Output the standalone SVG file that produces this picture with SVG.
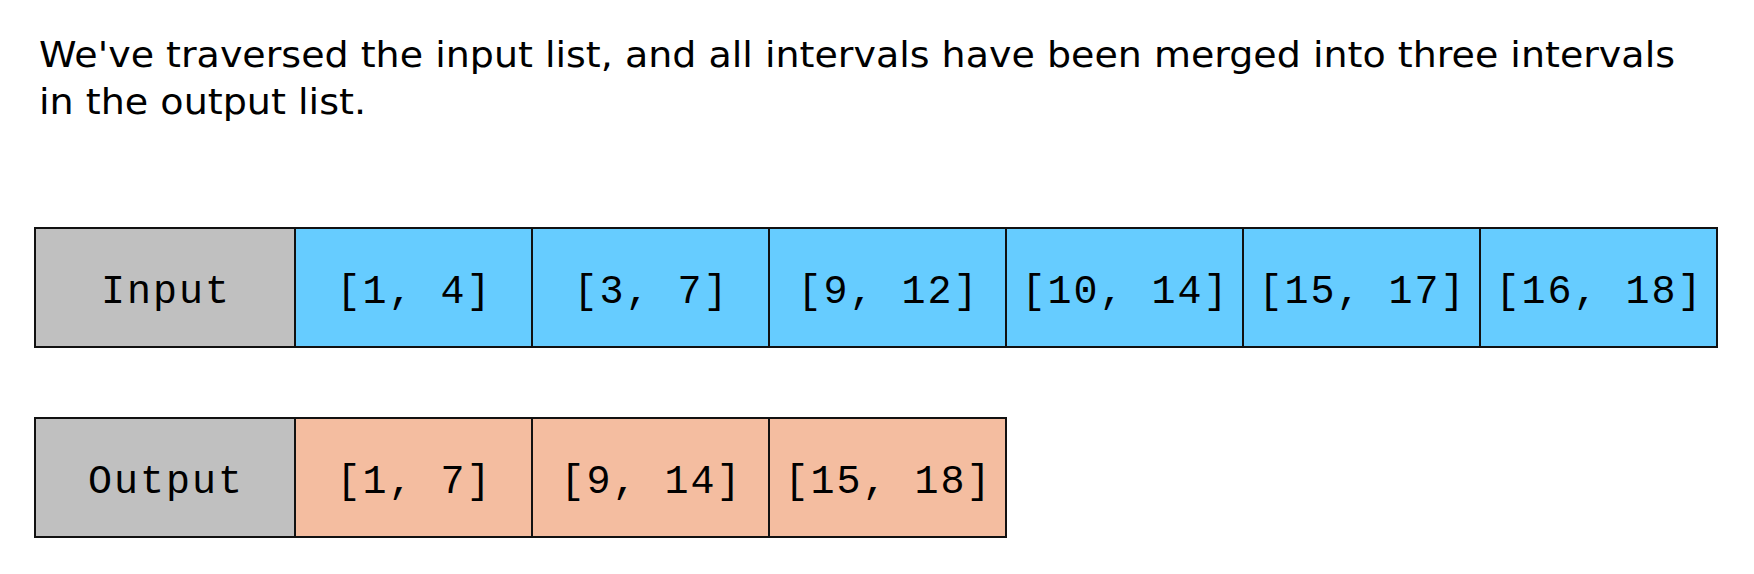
<svg xmlns="http://www.w3.org/2000/svg" width="1754" height="574" viewBox="0 0 1754 574">
<style>
.title{font-family:"DejaVu Sans",Verdana,sans-serif;font-size:35px;fill:#000}
.cell{stroke:#111;stroke-width:2}
.lab{fill:#C0C0C0}
.in{fill:#66CCFF}
.out{fill:#F4BDA0}
.t{font-family:"Liberation Mono","Courier New",monospace;font-size:40px;fill:#000;text-anchor:middle;letter-spacing:2px}
</style>
<rect width="1754" height="574" fill="#fff"/>
<g id="title">
<text class="title" x="39" y="67" textLength="1636" lengthAdjust="spacingAndGlyphs">We've traversed the input list, and all intervals have been merged into three intervals</text>
<text class="title" x="39" y="114" textLength="327" lengthAdjust="spacingAndGlyphs">in the output list.</text>
</g>
<g id="input-row">
<g id="input-label"><rect class="cell lab" x="35" y="228" width="260" height="119"/><text class="t" x="166" y="303">Input</text></g>
<g id="in1"><rect class="cell in" x="295" y="228" width="237" height="119"/><text class="t" x="414.5" y="303">[1, 4]</text></g>
<g id="in2"><rect class="cell in" x="532" y="228" width="237" height="119"/><text class="t" x="651.5" y="303">[3, 7]</text></g>
<g id="in3"><rect class="cell in" x="769" y="228" width="237" height="119"/><text class="t" x="888.5" y="303">[9, 12]</text></g>
<g id="in4"><rect class="cell in" x="1006" y="228" width="237" height="119"/><text class="t" x="1125.5" y="303">[10, 14]</text></g>
<g id="in5"><rect class="cell in" x="1243" y="228" width="237" height="119"/><text class="t" x="1362.5" y="303">[15, 17]</text></g>
<g id="in6"><rect class="cell in" x="1480" y="228" width="237" height="119"/><text class="t" x="1599.5" y="303">[16, 18]</text></g>
</g>
<g id="output-row">
<g id="output-label"><rect class="cell lab" x="35" y="418" width="260" height="119"/><text class="t" x="166" y="493">Output</text></g>
<g id="out1"><rect class="cell out" x="295" y="418" width="237" height="119"/><text class="t" x="414.5" y="493">[1, 7]</text></g>
<g id="out2"><rect class="cell out" x="532" y="418" width="237" height="119"/><text class="t" x="651.5" y="493">[9, 14]</text></g>
<g id="out3"><rect class="cell out" x="769" y="418" width="237" height="119"/><text class="t" x="888.5" y="493">[15, 18]</text></g>
</g>
<g id="connectors"/>
</svg>
